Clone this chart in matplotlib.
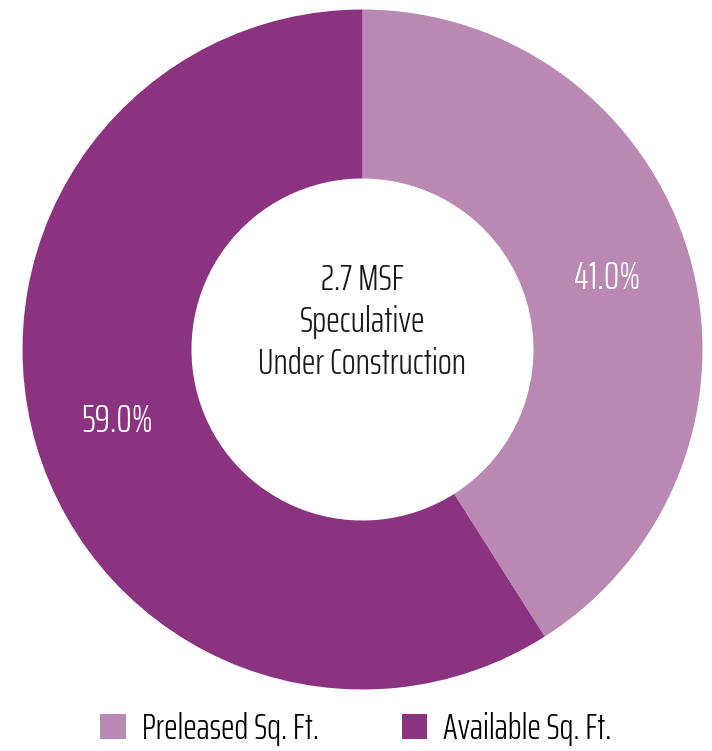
import matplotlib
matplotlib.use("Agg")
import matplotlib.pyplot as plt
from matplotlib.patches import Patch

categories = ["Preleased Sq. Ft.", "Available Sq. Ft."]
shares = [41.0, 59.0]
colors = ["#B988B3", "#8B3380"]
center_lines = "2.7 MSF\nSpeculative\nUnder Construction"

plt.rcParams["font.family"] = ["Saira ExtraCondensed", "DejaVu Sans"]
plt.rcParams["font.weight"] = 300

W, H = 712, 751
fig = plt.figure(figsize=(W / 100, H / 100), dpi=100)
cx, cy, R = 362.5, 349.5, 340.0
ax = fig.add_axes([(cx - R) / W, (H - cy - R) / H, 2 * R / W, 2 * R / H])

wedges, _, autotexts = ax.pie(
    shares, colors=colors, startangle=90, counterclock=False, radius=1.0,
    wedgeprops=dict(width=0.497, edgecolor="none"),
    autopct="%.1f%%", pctdistance=0.75,
    textprops=dict(color="white", fontsize=28, weight=300),
)
ax.set_xlim(-1, 1)
ax.set_ylim(-1, 1)
ax.set_aspect("equal")
ax.axis("off")

ax.text(0, 0.08, center_lines, ha="center", va="center", fontsize=26.5,
        weight=300, color="#1a1a1a", linespacing=1.3)

handles = [Patch(facecolor=c, edgecolor="none") for c in colors]
fig.legend(handles, categories, loc="center", bbox_to_anchor=(0.5, 1 - 729 / H),
           ncol=2, frameon=False, handlelength=0.7, handleheight=0.7,
           handletextpad=0.45, columnspacing=2.3, prop=dict(size=26, weight=300))

fig.savefig("out.png", dpi=100, facecolor="white")
